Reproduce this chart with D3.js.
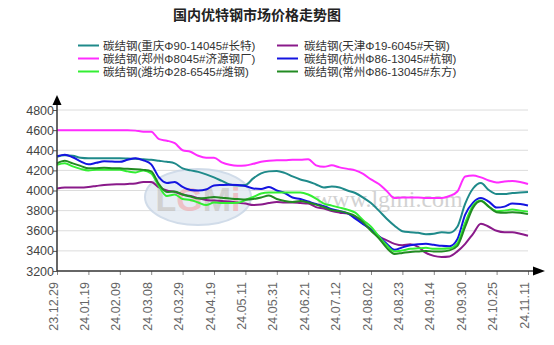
<!DOCTYPE html>
<html>
<head>
<meta charset="utf-8">
<script src="https://cdn.jsdelivr.net/npm/d3@7"></script>
<style>
  html, body { margin: 0; padding: 0; background: #fff; }
  svg { display: block; }
</style>
</head>
<body>
<svg id="chart" width="554" height="345"></svg>
<script>
const title = "国内优特钢市场价格走势图";
const tickLabels = ["23.12.29","24.01.19","24.02.09","24.03.08","24.03.29","24.04.19","24.05.11","24.05.31","24.06.21","24.07.12","24.08.02","24.08.23","24.09.14","24.09.30","24.10.25","24.11.11"];
const pointsPerTick = 4;
const yTicks = [3200,3400,3600,3800,4000,4200,4400,4600,4800];

const seriesNames = [
  "碳结钢(重庆Φ90-14045#长特)",
  "碳结钢(天津Φ19-6045#天钢)",
  "碳结钢(郑州Φ8045#济源钢厂)",
  "碳结钢(杭州Φ86-13045#杭钢)",
  "碳结钢(潍坊Φ28-6545#潍钢)",
  "碳结钢(常州Φ86-13045#东方)"
];
const seriesColors = ["#1f8a8a","#8a1a8a","#ff2cff","#1414e0","#33ee33","#228b22"];

const chongqing = [4335,4350,4345,4325,4320,4320,4320,4320,4320,4318,4315,4310,4305,4295,4285,4270,4220,4200,4185,4160,4130,4095,4060,4050,4055,4120,4170,4190,4195,4175,4140,4110,4090,4060,4030,4040,4030,4000,3975,3930,3875,3800,3720,3650,3595,3585,3580,3565,3570,3585,3580,3640,3870,4020,4075,4005,3965,3965,3975,3980,3985];
const tianjin = [4020,4030,4030,4030,4035,4045,4055,4060,4062,4065,4070,4085,4085,4030,4000,3985,3960,3945,3925,3905,3900,3895,3890,3880,3870,3855,3860,3875,3885,3880,3880,3875,3870,3835,3820,3795,3780,3770,3730,3670,3610,3545,3505,3470,3455,3465,3440,3380,3350,3340,3345,3395,3470,3570,3670,3640,3600,3585,3585,3570,3550];
const zhengzhou = [4600,4600,4600,4600,4600,4600,4600,4600,4600,4600,4595,4585,4585,4510,4495,4470,4400,4385,4345,4325,4325,4280,4255,4245,4248,4265,4285,4295,4300,4300,4305,4305,4310,4250,4235,4250,4230,4215,4200,4165,4110,4065,3995,3925,3930,3930,3930,3925,3925,3925,3945,3990,4140,4150,4130,4100,4080,4090,4095,4085,4065];
const hangzhou = [4340,4355,4330,4290,4260,4275,4290,4288,4285,4305,4320,4300,4260,4130,4075,4085,4035,4005,4000,4010,4050,4055,4058,4055,4045,4020,4015,4035,4000,3975,3930,3915,3890,3865,3845,3815,3795,3775,3720,3665,3615,3545,3470,3410,3435,3455,3465,3470,3460,3450,3445,3515,3760,3880,3925,3890,3830,3840,3870,3865,3850];
const weifang = [4255,4270,4240,4215,4200,4205,4205,4205,4205,4190,4180,4200,4170,4040,3945,3960,3915,3905,3880,3855,3880,3875,3875,3878,3905,3935,3970,3980,3980,3980,3980,3980,3960,3920,3870,3850,3830,3810,3780,3705,3640,3545,3455,3395,3405,3420,3425,3430,3420,3420,3425,3475,3680,3850,3900,3840,3795,3800,3810,3800,3790];
const changzhou = [4270,4295,4270,4245,4220,4222,4225,4222,4220,4215,4212,4205,4190,4060,3985,3990,3960,3940,3920,3925,3935,3928,3920,3915,3910,3915,3930,3950,3915,3895,3885,3895,3880,3860,3835,3805,3795,3775,3745,3685,3600,3525,3430,3370,3380,3390,3395,3400,3395,3395,3405,3450,3640,3830,3895,3840,3785,3780,3785,3780,3765];

const seriesValues = [chongqing, tianjin, zhengzhou, hangzhou, weifang, changzhou];

const svg = d3.select("#chart");
const nPts = chongqing.length;

const x = d3.scaleLinear().domain([0, nPts - 1]).range([57, 528]);
const y = d3.scaleLinear().domain([3200, 4800]).range([271, 110]);

// title
svg.append("text")
  .attr("x", 257).attr("y", 20)
  .attr("text-anchor", "middle")
  .attr("font-family", "'Noto Sans CJK SC', sans-serif")
  .attr("font-weight", "bold")
  .attr("font-size", 14)
  .attr("fill", "#222")
  .text(title);

// legend
const legendPos = [
  {lx: 78, tx: 103, y: 45.5}, {lx: 277, tx: 304, y: 45.5},
  {lx: 78, tx: 103, y: 58.5}, {lx: 277, tx: 304, y: 58.5},
  {lx: 78, tx: 103, y: 71.5}, {lx: 277, tx: 304, y: 71.5}
];
const legend = svg.append("g");
seriesNames.forEach((name, i) => {
  const p = legendPos[i];
  legend.append("line")
    .attr("x1", p.lx).attr("x2", p.lx + 21)
    .attr("y1", p.y).attr("y2", p.y)
    .attr("stroke", seriesColors[i]).attr("stroke-width", 2);
  legend.append("text")
    .attr("x", p.tx).attr("y", p.y + 4)
    .attr("font-family", "'Liberation Sans', 'Noto Sans CJK SC', sans-serif")
    .attr("font-size", 11.5)
    .attr("fill", "#333")
    .text(name);
});

// gridlines
svg.append("g")
  .selectAll("line")
  .data(yTicks.filter(v => v > 3200))
  .join("line")
  .attr("x1", 57).attr("x2", 528)
  .attr("y1", d => y(d)).attr("y2", d => y(d))
  .attr("stroke", "#dcdcdc").attr("stroke-width", 1);

// watermark
const wm = svg.append("g").attr("opacity", 0.85);
wm.append("ellipse")
  .attr("cx", 198).attr("cy", 197).attr("rx", 53).attr("ry", 28)
  .attr("fill", "#e3eaf3").attr("stroke", "#c9d6e6").attr("stroke-width", 2);
const logo = wm.append("text")
  .attr("x", 198).attr("y", 211)
  .attr("text-anchor", "middle")
  .attr("font-family", "'Liberation Sans', Arial, sans-serif")
  .attr("font-weight", "bold")
  .attr("font-size", 34);
logo.append("tspan").attr("fill", "#c9c9c9").text("L");
logo.append("tspan").attr("fill", "#eab7bd").text("G");
logo.append("tspan").attr("fill", "#c9c9c9").text("M");
logo.append("tspan").attr("fill", "#eab7bd").text("i");
svg.append("text")
  .attr("x", 315).attr("y", 207)
  .attr("font-family", "'Liberation Serif', 'Times New Roman', serif")
  .attr("font-size", 24)
  .attr("fill", "#d2d2d2")
  .text("www.lgmi.com");

// lines
const line = d3.line()
  .x((d, i) => x(i))
  .y(d => y(d))
  .curve(d3.curveMonotoneX);

seriesValues.forEach((vals, i) => {
  svg.append("path")
    .datum(vals)
    .attr("fill", "none")
    .attr("stroke", seriesColors[i])
    .attr("stroke-width", 2)
    .attr("stroke-linejoin", "round")
    .attr("d", line);
});

// y axis
const yAxis = d3.axisLeft(y).tickValues(yTicks).tickSize(4).tickFormat(d3.format("d"));
const gy = svg.append("g").attr("transform", "translate(57,0)").call(yAxis);
gy.select(".domain").remove();
gy.selectAll(".tick line").attr("stroke", "#555");
gy.selectAll(".tick text")
  .attr("x", -3)
  .attr("font-family", "'Liberation Sans', Arial, sans-serif")
  .attr("font-size", 12.5)
  .attr("fill", "#444");

// x axis
const tickIdx = tickLabels.map((_, i) => i * pointsPerTick);
const xAxis = d3.axisBottom(x).tickValues(tickIdx).tickSize(4).tickFormat((d, i) => tickLabels[i]);
const gx = svg.append("g").attr("transform", "translate(0,271)").call(xAxis);
gx.select(".domain").remove();
gx.selectAll(".tick line").attr("stroke", "#888");
gx.selectAll(".tick text")
  .attr("font-family", "'Liberation Sans', Arial, sans-serif")
  .attr("font-size", 12.5)
  .attr("fill", "#666")
  .attr("text-anchor", "end")
  .attr("transform", "translate(0,11) rotate(-90)")
  .attr("x", 0).attr("y", 0).attr("dy", 0);

// axis lines with arrows
svg.append("line")
  .attr("x1", 57).attr("x2", 57).attr("y1", 271).attr("y2", 103)
  .attr("stroke", "#333").attr("stroke-width", 1.5);
svg.append("path")
  .attr("d", "M57,95 L52.5,105 L61.5,105 Z")
  .attr("fill", "#000");
svg.append("line")
  .attr("x1", 57).attr("x2", 536).attr("y1", 271).attr("y2", 271)
  .attr("stroke", "#333").attr("stroke-width", 1.5);
svg.append("path")
  .attr("d", "M545,271 L533,266.5 L533,275.5 Z")
  .attr("fill", "#000");
</script>
</body>
</html>
